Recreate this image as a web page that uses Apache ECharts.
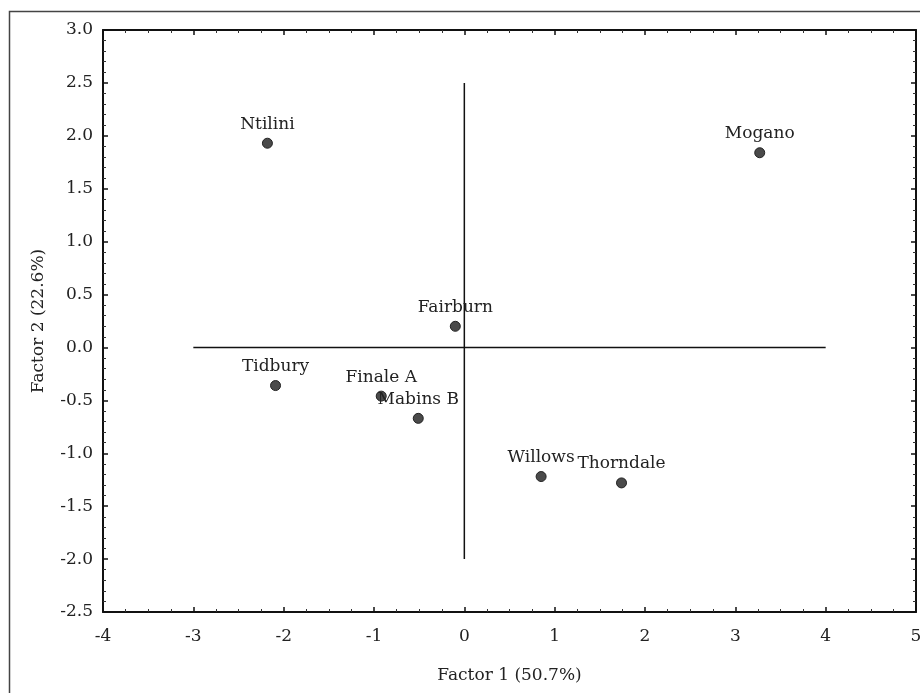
<!DOCTYPE html>
<html>
<head>
<meta charset="utf-8">
<script src="https://cdn.jsdelivr.net/npm/echarts@6/dist/echarts.min.js"></script>
<style>html,body{margin:0;padding:0;background:#fff;}#c{width:920px;height:693px;}</style>
</head>
<body>
<div id="c"></div>
<script>
const names = ['Ntilini','Mogano','Fairburn','Tidbury','Finale A','Mabins B','Willows','Thorndale'];
const factor1 = [-2.18, 3.27, -0.10, -2.09, -0.92, -0.51, 0.85, 1.74];
const factor2 = [1.93, 1.84, 0.20, -0.36, -0.46, -0.67, -1.22, -1.28];
const hLine = [[-3, 0], [4, 0]];
const vLine = [[0, -2], [0, 2.5]];
const xTicks = [-4, 5, 1];
const yTicks = [-2.5, 3.0, 0.5];

const font = 'DejaVu Serif';
const fs = 17;
const chart = echarts.init(document.getElementById('c'));
const pts = names.map((n, i) => ({name: n, value: [factor1[i], factor2[i]]}));
const axisCommon = {
  axisLine: {show: true, onZero: false, lineStyle: {color: '#111', width: 2}},
  axisTick: {show: true, inside: true, length: 5, lineStyle: {color: '#111', width: 1.5}},
  minorTick: {show: true, length: 3, lineStyle: {color: '#333', width: 1}},
  splitLine: {show: false},
  axisLabel: {color: '#222', fontFamily: font, fontSize: fs}
};
chart.setOption({
  backgroundColor: '#fff',
  animation: false,
  graphic: [{type: 'rect', shape: {x: 9.5, y: 11.5, width: 1000, height: 1000}, style: {fill: 'none', stroke: '#444', lineWidth: 1.5}}],
  grid: {left: 103, top: 30, right: 4, bottom: 81, containLabel: false, outerBoundsMode: 'none'},
  xAxis: [
    Object.assign({}, axisCommon, {type: 'value', min: xTicks[0], max: xTicks[1], interval: xTicks[2],
      minorTick: Object.assign({}, axisCommon.minorTick, {splitNumber: 4}),
      axisLabel: Object.assign({}, axisCommon.axisLabel, {margin: 16}),
      name: 'Factor 1 (50.7%)', nameLocation: 'middle', nameGap: 55,
      nameTextStyle: {color: '#222', fontFamily: font, fontSize: fs}}),
    Object.assign({}, axisCommon, {type: 'value', position: 'top', min: xTicks[0], max: xTicks[1], interval: xTicks[2],
      minorTick: Object.assign({}, axisCommon.minorTick, {splitNumber: 4}),
      axisLabel: {show: false}})
  ],
  yAxis: [
    Object.assign({}, axisCommon, {type: 'value', min: yTicks[0], max: yTicks[1], interval: yTicks[2],
      minorTick: Object.assign({}, axisCommon.minorTick, {splitNumber: 5}),
      axisLabel: Object.assign({}, axisCommon.axisLabel, {margin: 10, formatter: v => v.toFixed(1)}),
      name: 'Factor 2 (22.6%)', nameLocation: 'middle', nameGap: 56,
      nameTextStyle: {color: '#222', fontFamily: font, fontSize: fs}}),
    Object.assign({}, axisCommon, {type: 'value', position: 'right', min: yTicks[0], max: yTicks[1], interval: yTicks[2],
      minorTick: Object.assign({}, axisCommon.minorTick, {splitNumber: 5}),
      axisLabel: {show: false}})
  ],
  series: [
    {type: 'line', data: hLine, symbol: 'none', lineStyle: {color: '#111', width: 1.5}, silent: true, z: 1},
    {type: 'line', data: vLine, symbol: 'none', lineStyle: {color: '#111', width: 1.5}, silent: true, z: 1},
    {type: 'scatter', data: pts, symbolSize: 10, z: 3,
      itemStyle: {color: '#4a4a4a', borderColor: '#222', borderWidth: 1, opacity: 1},
      label: {show: true, position: 'top', distance: 5, formatter: p => p.name,
        color: '#222', fontFamily: font, fontSize: fs}}
  ]
});
</script>
</body>
</html>
